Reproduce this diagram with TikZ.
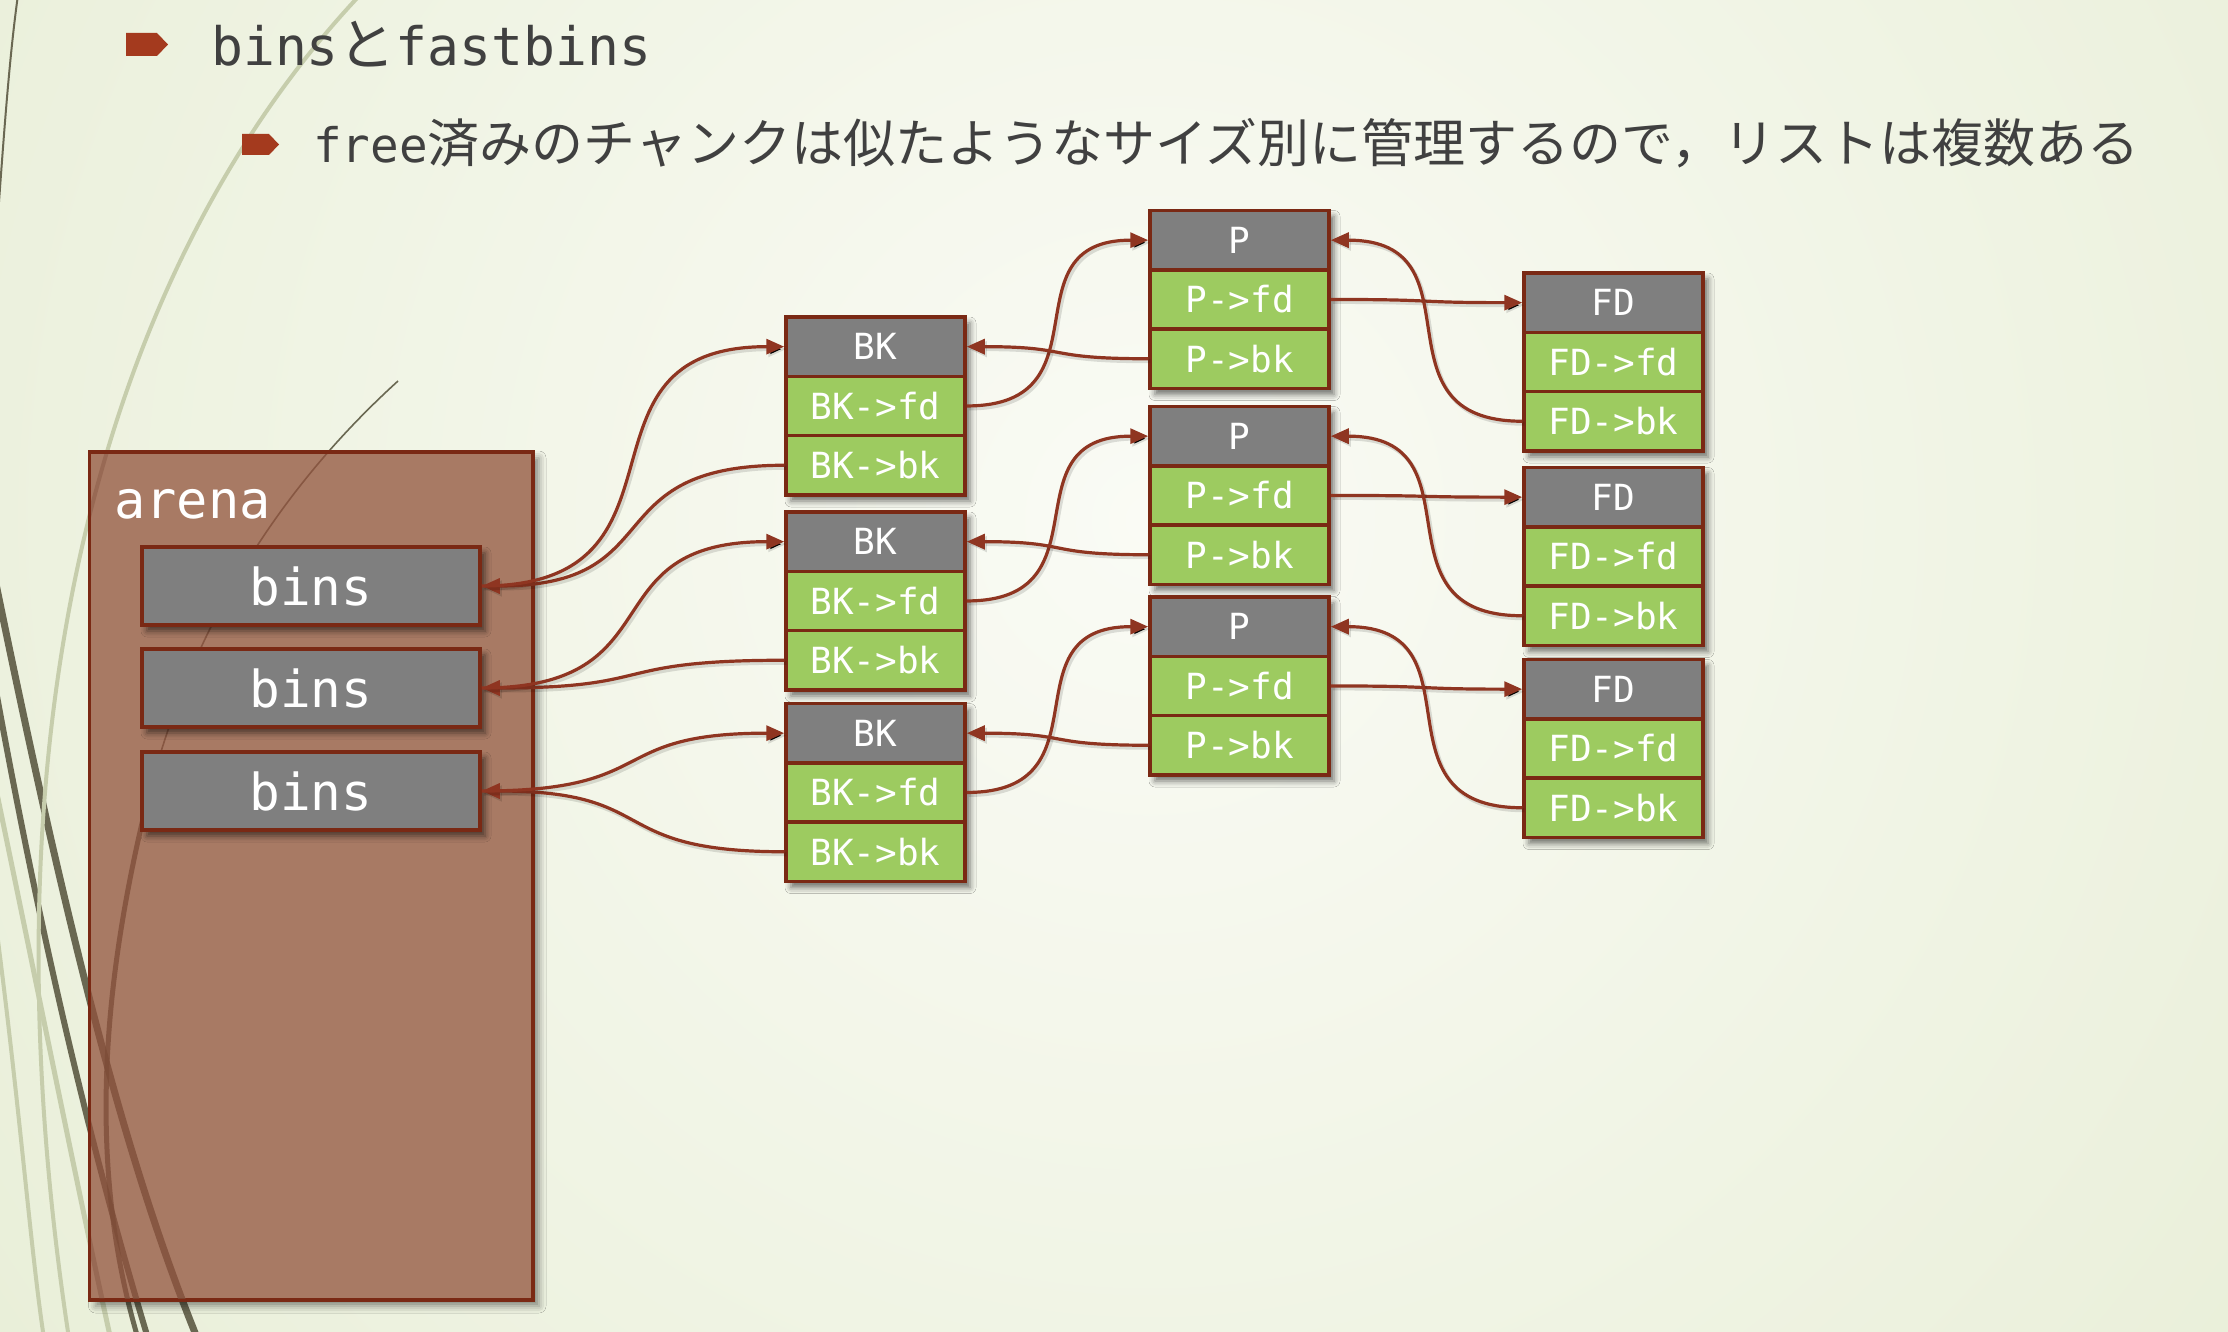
\documentclass[tikz,border=0pt]{standalone}
\usepackage{fontspec}
\newfontfamily\monof{DejaVu Sans Mono}
\newfontfamily\cjkf{Noto Sans CJK JP}
\usetikzlibrary{arrows.meta,shadows.blur}
\definecolor{bgin}{HTML}{FAFBF5}
\definecolor{bgout}{HTML}{DBE5C1}
\definecolor{brd}{HTML}{7A2914}
\definecolor{arr}{HTML}{8F3521}
\definecolor{hdrgray}{HTML}{7F7F7F}
\definecolor{fldgreen}{HTML}{9DCB60}
\definecolor{arenafill}{HTML}{A87A64}
\definecolor{bulletc}{HTML}{A43A1E}
\definecolor{txt}{HTML}{404040}
\definecolor{wispdark}{HTML}{6A6852}
\definecolor{wisppale}{HTML}{C6CDAC}
\definecolor{wispin}{HTML}{7C4C37}
\newcommand\chunkbox[5]{%
  \path[chunkshadow] (#2-89.5,#3) rectangle (#2+89.5,#3+178);
  \node[hdr] (#1h) at (#2,#3+29.65) {#4};
  \node[fld] (#1f) at (#2,#3+88.95) {#5->fd};
  \node[fld] (#1b) at (#2,#3+148.25) {#5->bk};
}
\newcommand\wisppaths[2]{%
  \draw[#1, line width=7pt] (-15,530) .. controls (60,900) and (120,1150) .. (200,1345);
  \draw[#1, line width=6pt] (-20,600) .. controls (40,950) and (100,1180) .. (150,1345);
  \draw[#1, line width=2pt] (18,-5) .. controls (6,80) and (0,200) .. (-10,320);
  \draw[#2, line width=4pt] (360,-5) .. controls (120,250) and (-30,700) .. (70,1345);
  \draw[#2, line width=5pt] (-10,760) .. controls (40,1000) and (80,1200) .. (112,1345);
  \draw[#2, line width=4pt] (-10,880) .. controls (20,1100) and (30,1250) .. (45,1345);
  \draw[#1, line width=1.6pt] (398,381) .. controls (300,470) and (200,600) .. (150,790);
  \draw[#1, line width=5pt] (150,790) .. controls (110,950) and (80,1150) .. (140,1345);
}
\begin{document}
\begin{tikzpicture}[x=1pt,y=-1pt,
  hdr/.style={draw=brd, line width=3.5pt, fill=hdrgray, text=white,
    font=\monof\fontsize{36}{40}\selectfont, minimum width=179pt,
    minimum height=59.3pt, inner sep=0pt},
  fld/.style={hdr, fill=fldgreen},
  binbox/.style={draw=brd, line width=3.5pt, fill=hdrgray, text=white,
    font=\monof\fontsize{51}{56}\selectfont, minimum width=338pt,
    minimum height=78pt, inner sep=0pt,
    blur shadow={shadow xshift=5pt, shadow yshift=-6pt, shadow blur radius=6pt, shadow opacity=55}},
  chunkshadow/.style={fill=hdrgray,
    blur shadow={shadow xshift=5pt, shadow yshift=-6pt, shadow blur radius=6pt, shadow opacity=55}},
  arenabox/.style={draw=brd, line width=3.5pt, fill=arenafill,
    blur shadow={shadow xshift=6pt, shadow yshift=-6pt, shadow blur radius=7pt, shadow opacity=45}},
  link/.style={draw=arr, line width=3.2pt, -{Triangle[length=18pt,width=15pt]}, looseness=1.5,
    preaction={draw=black, draw opacity=0.12, line width=4pt, transform canvas={xshift=2pt,yshift=-2.5pt}}},
]
\useasboundingbox (0,0) rectangle (2228,1332);
\begin{scope}
  \clip (0,0) rectangle (2228,1332);
  \shade[inner color=bgin, outer color=bgout] (1150,520) circle (2600);
  \wisppaths{wispdark}{wisppale}
\end{scope}

% title
\fill[bulletc] (126,33) -- (157,33) -- (168,44.5) -- (157,56) -- (126,56) -- cycle;
\node[anchor=base west, inner sep=0pt, text=txt] (title) at (211,66)
  {\monof\fontsize{53}{60}\selectfont bins{\cjkf\fontsize{57}{60}\selectfont と}fastbins};
\fill[bulletc] (242,134) -- (269,134) -- (279,144.5) -- (269,155) -- (242,155) -- cycle;
\node[anchor=base west, inner sep=0pt, text=txt] (sub) at (313,163)
  {\monof\fontsize{47.6}{56}\selectfont free\cjkf\fontsize{52}{56}\selectfont 済みのチャンクは似たようなサイズ別に管理するので，リストは複数ある};

% arena
\node[arenabox, minimum width=443.5pt, minimum height=848pt, inner sep=0pt] (arena) at (311.25,876) {};
\begin{scope}
  \clip (91,454) rectangle (531,1298);
  \wisppaths{wispin, opacity=0.75}{wispin, opacity=0.35}
\end{scope}
\node[anchor=base west, inner sep=0pt, text=white, font=\monof\fontsize{52}{56}\selectfont] (arenalabel) at (114,518) {arena};
\node[binbox] (bin1) at (311,586) {bins};
\node[binbox] (bin2) at (311,688) {bins};
\node[binbox] (bin3) at (311,791) {bins};

% chunks
\chunkbox{bka}{875.5}{317}{BK}{BK}
\chunkbox{bkb}{875.5}{512}{BK}{BK}
\chunkbox{bkc}{875.5}{703.5}{BK}{BK}
\chunkbox{pa}{1239.5}{210.5}{P}{P}
\chunkbox{pb}{1239.5}{406.5}{P}{P}
\chunkbox{pc}{1239.5}{597}{P}{P}
\chunkbox{fda}{1613.5}{273}{FD}{FD}
\chunkbox{fdb}{1613.5}{467.5}{FD}{FD}
\chunkbox{fdc}{1613.5}{659.5}{FD}{FD}

% links
\foreach \i/\b in {a/1,b/2,c/3}{
  \draw[link] (bk\i f.east) to[out=0,in=180] (p\i h.west);
  \draw[link] (p\i b.west) to[out=180,in=0] (bk\i h.east);
  \draw[link] (p\i f.east) to[out=0,in=180] (fd\i h.west);
  \draw[link] (fd\i b.west) to[out=180,in=0] (p\i h.east);
  \draw[link] (bk\i b.west) to[out=180,in=0] (bin\b.east);
  \draw[link] (bin\b.east) to[out=0,in=180] (bk\i h.west);
}
\end{tikzpicture}
\end{document}
